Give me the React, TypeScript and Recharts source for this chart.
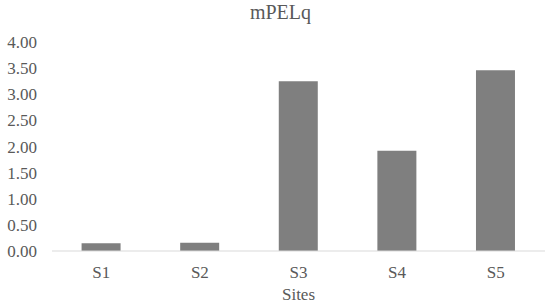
import { BarChart, Bar, XAxis, YAxis } from 'recharts';

const sites = ['S1', 'S2', 'S3', 'S4', 'S5'];
const mpelq = [0.15, 0.16, 3.25, 1.92, 3.46];
const yTicks = [0, 0.5, 1, 1.5, 2, 2.5, 3, 3.5, 4];

const data = sites.map((site, i) => ({ site, value: mpelq[i] }));

const FONT = "'Liberation Serif', 'Times New Roman', Tinos, 'DejaVu Serif', serif";
const TEXT_COLOR = '#595959';

export default function App() {
  return (
    <div style={{ position: 'absolute', left: 0, top: 0, width: 550, height: 307, background: '#fff', fontFamily: FONT }}>
      <div
        style={{
          position: 'absolute',
          left: 0,
          width: 561,
          top: 0,
          textAlign: 'center',
          fontSize: 20,
          lineHeight: '24px',
          color: TEXT_COLOR,
        }}
      >
        mPELq
      </div>
      <BarChart width={550} height={307} data={data} margin={{ top: 42, right: 5, left: 8, bottom: 0 }} barCategoryGap="30%">
        <XAxis
          dataKey="site"
          height={56}
          tickLine={false}
          tickSize={0}
          tickMargin={15}
          stroke="#d9d9d9"
          tick={{ fill: TEXT_COLOR, fontSize: 17, fontFamily: FONT }}
          label={{ value: 'Sites', position: 'insideBottom', offset: 7, fill: TEXT_COLOR, fontSize: 17, fontFamily: FONT }}
        />
        <YAxis
          width={44}
          domain={[0, 4]}
          ticks={yTicks}
          axisLine={false}
          tickLine={false}
          tickSize={0}
          tickMargin={15}
          tickFormatter={(v: number) => v.toFixed(2)}
          tick={{ fill: TEXT_COLOR, fontSize: 17, fontFamily: FONT }}
        />
        <Bar dataKey="value" fill="#7f7f7f" isAnimationActive={false} />
      </BarChart>
    </div>
  );
}
